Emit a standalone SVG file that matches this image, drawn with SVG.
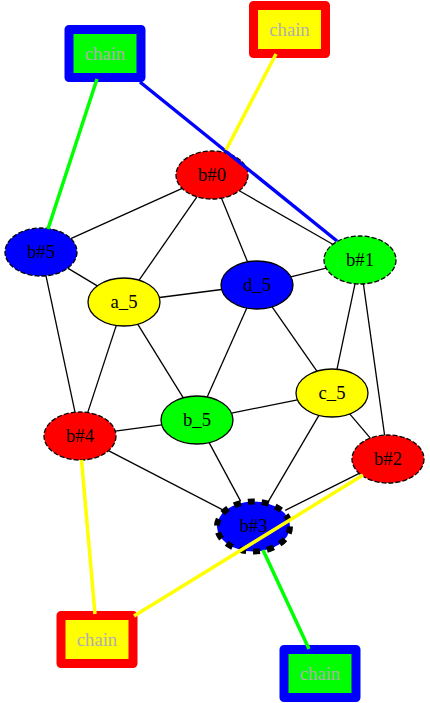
<svg xmlns="http://www.w3.org/2000/svg" width="430" height="703" viewBox="0 0 430 703">
<style>
text{font-family:"Liberation Serif","Times New Roman",serif;font-size:18.67px;text-anchor:middle;fill:#000}
.chain text{fill:#b0b0b0}
.e{stroke:#000;stroke-width:1.3;fill:none}
.n{stroke:#000;stroke-width:1.3}
.d{stroke-dasharray:5,2}
.box{stroke-width:9;stroke-linejoin:round}
.c{stroke-width:3.5;fill:none}
</style>
<rect width="430" height="703" fill="#fff"/>
<g id="chain1" class="chain"><rect class="box" x="69" y="29.5" width="72" height="48" fill="#00ff00" stroke="#0000ff"/><text x="105" y="59.5">chain</text></g>
<g id="chain2" class="chain"><rect class="box" x="253.5" y="5.5" width="72" height="48" fill="#ffff00" stroke="#ff0000"/><text x="289.5" y="35.5">chain</text></g>
<g id="chain3" class="chain"><rect class="box" x="61" y="615.5" width="72" height="48" fill="#ffff00" stroke="#ff0000"/><text x="97" y="645.5">chain</text></g>
<g id="chain4" class="chain"><rect class="box" x="284" y="649.5" width="72" height="48" fill="#00ff00" stroke="#0000ff"/><text x="320" y="679.5">chain</text></g>
<g id="b0"><ellipse class="n d" cx="212" cy="175" rx="36" ry="24" fill="#ff0000"/><text x="212" y="180.5">b#0</text></g>
<g id="b5"><ellipse class="n d" cx="41" cy="252" rx="36" ry="24" fill="#0000ff"/><text x="41" y="257.5">b#5</text></g>
<g id="b1"><ellipse class="n d" cx="360" cy="260" rx="36" ry="24" fill="#00ff00"/><text x="360" y="265.5">b#1</text></g>
<g id="d_5"><ellipse class="n" cx="257" cy="285" rx="36" ry="24" fill="#0000ff"/><text x="257" y="290.5">d_5</text></g>
<g id="a_5"><ellipse class="n" cx="124" cy="302" rx="36" ry="24" fill="#ffff00"/><text x="124" y="307.5">a_5</text></g>
<g id="c_5"><ellipse class="n" cx="332" cy="393" rx="36" ry="24" fill="#ffff00"/><text x="332" y="398.5">c_5</text></g>
<g id="b_5"><ellipse class="n" cx="197" cy="420" rx="36" ry="24" fill="#00ff00"/><text x="197" y="425.5">b_5</text></g>
<g id="b4"><ellipse class="n d" cx="80" cy="436" rx="36" ry="24" fill="#ff0000"/><text x="80" y="441.5">b#4</text></g>
<g id="b2"><ellipse class="n d" cx="388" cy="459" rx="36" ry="24" fill="#ff0000"/><text x="388" y="464.5">b#2</text></g>
<g id="b3"><ellipse cx="253.5" cy="526.5" rx="36.5" ry="25" fill="#0000ff" stroke="#000" stroke-width="6" stroke-dasharray="7,7"/><text x="253.5" y="531.5">b#3</text></g>
<g id="connectors">
<path class="e" d="M182.2,188.4L70.8,238.6"/>
<path class="e" d="M196.9,196.8L139.1,280.2"/>
<path class="e" d="M221.5,198.2L247.5,261.8"/>
<path class="e" d="M239.3,190.7L332.7,244.3"/>
<path class="e" d="M67.7,268.1L97.3,285.9"/>
<path class="e" d="M46,275.8L75,412.2"/>
<path class="e" d="M159.4,297.5L221.6,289.5"/>
<path class="e" d="M116.3,325.4L87.7,412.6"/>
<path class="e" d="M137.7,324.2L183.3,397.8"/>
<path class="e" d="M290.8,276.8L326.2,268.2"/>
<path class="e" d="M246.8,308L207.2,397"/>
<path class="e" d="M272.1,306.8L316.9,371.2"/>
<path class="e" d="M355,283.8L337,369.2"/>
<path class="e" d="M363.4,283.9L384.6,435.1"/>
<path class="e" d="M297.5,399.9L231.5,413.1"/>
<path class="e" d="M349.7,413.9L370.3,438.1"/>
<path class="e" d="M318.9,415.4L268.4,501.4"/>
<path class="e" d="M161.7,424.8L115.3,431.2"/>
<path class="e" d="M209.1,442.6L240.6,501.1"/>
<path class="e" d="M108.4,450.7L223.2,510.1"/>
<path class="e" d="M359.2,473.4L285.2,510.4"/>
<path class="c" stroke="#00ff00" d="M97,79L48,229"/>
<path class="c" stroke="#0000ff" d="M140,82L337,241"/>
<path class="c" stroke="#ffff00" d="M276,54L226,150"/>
<path class="c" stroke="#ffff00" d="M81.5,460L95,614"/>
<path class="c" stroke="#ffff00" d="M134,616L363,475"/>
<path class="c" stroke="#00ff00" d="M263,550L309,649"/>
</g>
</svg>
